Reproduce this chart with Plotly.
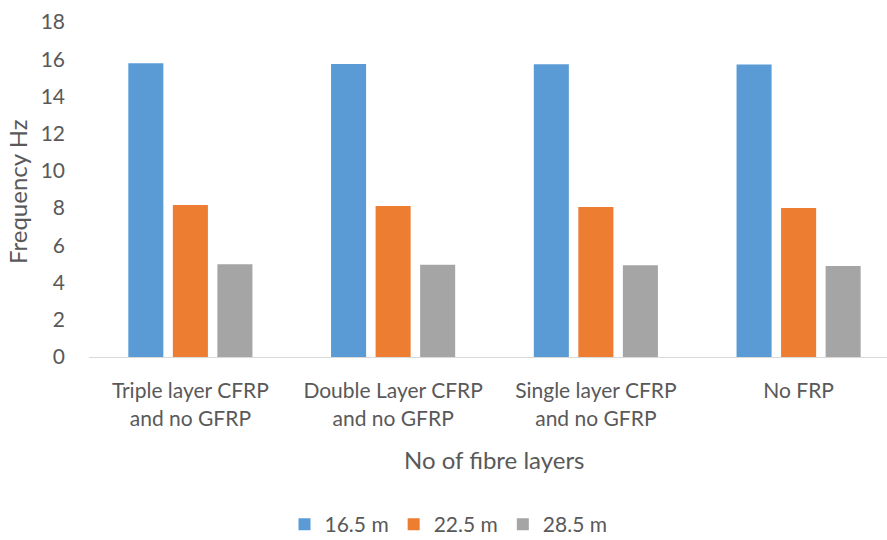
import plotly.graph_objects as go

categories = ["Triple layer CFRP<br>and no GFRP", "Double Layer CFRP<br>and no GFRP",
              "Single layer CFRP<br>and no GFRP", "No FRP"]
series_names = ["16.5 m", "22.5 m", "28.5 m"]
freq_165 = [15.79, 15.75, 15.73, 15.72]
freq_225 = [8.17, 8.12, 8.06, 8.01]
freq_285 = [4.98, 4.96, 4.93, 4.89]
colors = ["#5B9BD5", "#ED7D31", "#A5A5A5"]
y_ticks = list(range(0, 19, 2))

text_color = "#595959"
font_family = "Lato, 'Open Sans', sans-serif"

fig = go.Figure()
for name, vals, col in zip(series_names, [freq_165, freq_225, freq_285], colors):
    fig.add_trace(go.Bar(x=categories, y=vals, name=name, marker_color=col,
                         marker_line_width=0))

fig.update_layout(
    width=887, height=540,
    margin=dict(l=89, r=0, t=22, b=183, autoexpand=False),
    paper_bgcolor="white", plot_bgcolor="white",
    barmode="group", bargap=0.341, bargroupgap=0.213,
    font=dict(family=font_family, color=text_color, size=21),
    showlegend=True,
    legend=dict(orientation="h", x=0.245, xanchor="left", y=-0.50, yanchor="middle",
                font=dict(size=21, color=text_color), itemwidth=30,
                traceorder="normal"),
    annotations=[
        dict(text="Frequency Hz", textangle=-90, xref="paper", yref="paper",
             x=-0.0902, y=0.4925, xanchor="center", yanchor="middle", showarrow=False,
             font=dict(size=24, color=text_color)),
        dict(text="No of fibre layers", xref="paper", yref="paper",
             x=0.508, y=-0.3045, xanchor="center", yanchor="middle", showarrow=False,
             font=dict(size=24, color=text_color)),
    ],
)
fig.update_xaxes(
    range=[-0.5, 3.436], showgrid=False, showline=True, linecolor="#D9D9D9", linewidth=1,
    ticks="", tickfont=dict(size=21, color=text_color), ticklabelstandoff=15,
    automargin=False,
)
fig.update_yaxes(
    range=[0, 18], tickvals=y_ticks, showgrid=False, zeroline=False, showline=False,
    ticks="", tickfont=dict(size=21, color=text_color), ticklabelstandoff=23,
    automargin=False,
)

fig.write_html("out.html")
